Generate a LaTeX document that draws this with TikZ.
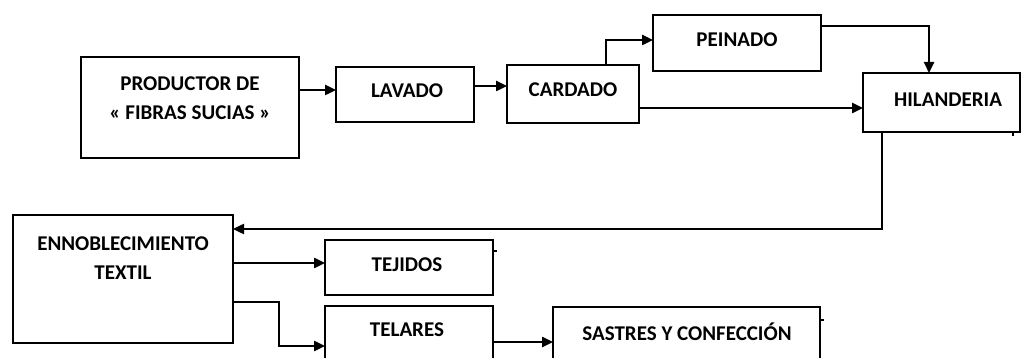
\documentclass[tikz,border=0pt]{standalone}
\usepackage{fontspec}
\setmainfont{Carlito}
\usetikzlibrary{arrows.meta}
\begin{document}
\begin{tikzpicture}[x=1pt,y=-1pt,
  box/.style={draw=black,line width=2.6pt,minimum width=#1,inner sep=0pt,outer sep=0pt},
  lbl/.style={font=\bfseries\fontsize{21}{27}\selectfont,inner sep=0pt,align=center},
  arr/.style={draw=black,line width=2.4pt,-{Triangle[length=11pt,width=10pt]}},
  ln/.style={draw=black,line width=2pt}]
\useasboundingbox (0,0) rectangle (1023,358);
\clip (0,0) rectangle (1023,358);
% boxes
\node[box=218pt,minimum height=101pt] (prod) at (190,107.5) {};
\node[box=138pt,minimum height=55pt] (lav) at (405,94.5) {};
\node[box=132pt,minimum height=58pt] (card) at (573,94) {};
\node[box=168pt,minimum height=56pt] (pein) at (737,43) {};
\node[box=157pt,minimum height=59pt] (hil) at (941.5,102.5) {};
\node[box=220pt,minimum height=128pt] (enn) at (123,279) {};
\node[box=168pt,minimum height=55pt] (tej) at (409,267.5) {};
\node[box=168pt,minimum height=70pt] (tel) at (409,341) {};
\node[box=267pt,minimum height=70pt] (sas) at (686.5,342) {};
% labels
\node[lbl] (tprod) at (190,98) {PRODUCTOR DE\\[2pt]« FIBRAS SUCIAS »};
\node[lbl] (tlav) at (407,91) {LAVADO};
\node[lbl] (tcard) at (573,90) {CARDADO};
\node[lbl] (tpein) at (737,40) {PEINADO};
\node[lbl] (thil) at (948,100) {HILANDERIA};
\node[lbl] (tenn) at (123,258) {ENNOBLECIMIENTO\\[2pt]TEXTIL};
\node[lbl] (ttej) at (407,265) {TEJIDOS};
\node[lbl] (ttel) at (407,330) {TELARES};
\node[lbl] (tsas) at (687,332) {SASTRES Y CONFECCIÓN};
% connectors
\draw[arr] (prod.east |- 0,90) -- (lav.west |- 0,90);
\draw[arr] (lav.east |- 0,86) -- (card.west |- 0,86);
\draw[arr] (card.north -| 606,0) |- (pein.west |- 0,40);
\draw[arr] (card.east |- 0,108) -- (hil.west |- 0,108);
\draw[arr] (pein.east |- 0,26) -| (hil.north -| 929,0);
\draw[arr] (hil.south -| 882,0) |- (enn.east |- 0,229);
\draw[arr] (enn.east |- 0,263) -- (tej.west |- 0,263);
\coordinate (bend) at (279,302);
\draw[arr] (enn.east |- bend) -- (bend) |- (tel.west |- 0,346);
\draw[arr] (tel.east |- 0,342) -- (sas.west |- 0,342);
% small ticks
\draw[ln] (hil.south east -| 1013,0) -- ++(0,4);
\draw[ln] (tej.east |- 0,251) -- ++(4,0);
\draw[ln] (sas.east |- 0,320) -- ++(4,0);
\end{tikzpicture}
\end{document}
